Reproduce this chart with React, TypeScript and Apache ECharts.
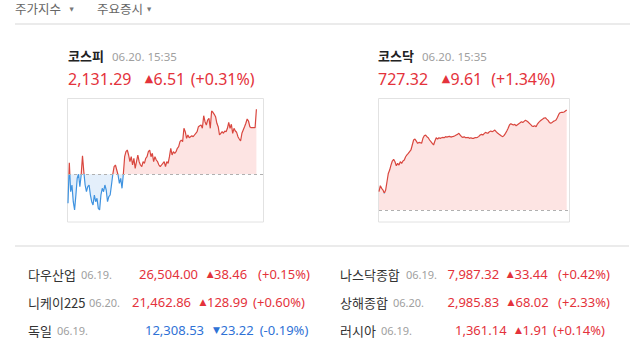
import React, { useEffect, useRef } from "react";
import * as echarts from "echarts";

// ---------- data ----------
const KOSPI_PREV = 2124.78;
const KOSDAQ_PREV = 717.71;
const KOSPI_AXIS = [2120.01, 2132.31];
const KOSDAQ_AXIS = [716.56, 728.38];

const kospiValues = [
  2121.88, 2125.94, 2123.04, 2123.71, 2122.04, 2121.21, 2122.71, 2124.38, 2124.78, 2123.54,
  2124.71, 2126.64, 2125.04, 2123.71, 2123.04, 2123.54, 2123.71, 2122.71, 2122.04, 2121.71,
  2122.71, 2122.04, 2122.38, 2121.38, 2121.21, 2122.71, 2123.38, 2123.04, 2123.71, 2123.21,
  2122.04, 2122.54, 2122.71, 2123.71, 2124.78, 2125.54, 2125.71, 2125.21, 2124.71, 2123.88,
  2124.38, 2123.38, 2124.78, 2126.54, 2127.04, 2127.21, 2126.71, 2126.04, 2126.54, 2125.71,
  2126.38, 2125.38, 2126.04, 2126.71, 2126.04, 2125.71, 2125.54, 2126.04, 2125.88, 2126.38,
  2126.54, 2127.04, 2127.21, 2126.54, 2126.88, 2126.04, 2126.54, 2126.21, 2126.04, 2125.71,
  2125.54, 2125.71, 2125.88, 2126.04,
  2125.54, 2126.04, 2125.88, 2126.54, 2127.38, 2126.71, 2127.04, 2126.88, 2127.04, 2127.38,
  2127.54, 2128.04, 2128.21, 2128.04, 2129.38, 2129.04, 2128.38, 2128.71, 2128.44, 2128.54,
  2128.64, 2128.54, 2128.71, 2128.88, 2129.04, 2129.54, 2129.64, 2129.71, 2129.38, 2130.64,
  2130.04, 2129.71, 2130.21, 2130.38, 2129.38, 2131.11, 2130.98, 2130.78, 2130.54, 2129.88,
  2129.54, 2128.71, 2128.88, 2129.04, 2128.88, 2129.11, 2129.04, 2129.38, 2129.98, 2129.38,
  2129.78, 2128.88, 2129.38, 2129.11, 2128.98, 2128.54, 2128.31, 2128.11, 2128.88, 2129.21,
  2129.54, 2129.88, 2130.31, 2130.11, 2129.54, 2129.44, 2129.44, 2129.44, 2129.44, 2131.29,
];

const kosdaqValues = [
  719.47, 720.05, 719.79, 719.63, 719.31, 719.63, 720.43, 721.23, 721.55, 722.03,
  722.42, 722.58, 722.35, 721.97, 722.19, 722.03, 722.35, 722.19, 722.42, 722.51,
  722.83, 723.0, 723.15, 723.32, 723.48, 723.96, 724.44, 724.53, 724.34, 724.12,
  724.21, 724.18, 724.12, 724.6, 724.85, 724.92, 724.76, 724.66, 724.44, 724.28,
  724.12, 723.96, 724.34, 724.66, 724.53, 724.66, 724.6, 724.66, 724.69, 724.66,
  724.76, 724.72, 724.76, 724.79, 724.72, 724.76, 724.79, 724.85, 724.92, 724.98,
  725.08, 724.92, 724.76, 724.69, 724.76, 724.66, 724.66, 724.69, 724.6, 724.66,
  724.6, 724.6,
  724.66, 724.66, 724.69, 724.79, 724.92, 724.98, 724.92, 725.05, 725.17, 725.11,
  725.11, 725.24, 725.3, 725.24, 725.3, 725.4, 725.24, 725.11, 725.01, 724.92,
  724.82, 724.76, 724.88, 725.08, 725.3, 725.56, 725.88, 726.01, 725.94, 725.88,
  725.94, 725.81, 725.91, 726.01, 726.1, 726.2, 726.13, 726.23, 726.33, 726.26,
  726.17, 726.04, 725.91, 725.78, 725.75, 725.81, 725.72, 725.97, 726.13, 726.26,
  726.36, 726.45, 726.55, 726.58, 726.45, 726.33, 726.13, 726.04, 726.13, 726.23,
  726.29, 726.36, 726.61, 726.9, 727.06, 727.09, 727.09, 727.13, 727.22, 727.32,
];

const tabLabels = ["주가지수", "주요증시"];
const indexNames = ["코스피", "코스닥"];
const indexTimes = ["06.20. 15:35", "06.20. 15:35"];
const indexPrices = ["2,131.29", "727.32"];
const indexChanges = ["6.51", "9.61"];
const indexRates = ["(+0.31%)", "(+1.34%)"];

const worldNames = ["다우산업", "니케이225", "독일", "나스닥종합", "상해종합", "러시아"];
const worldDates = ["06.19.", "06.20.", "06.19.", "06.19.", "06.20.", "06.19."];
const worldPrices = ["26,504.00", "21,462.86", "12,308.53", "7,987.32", "2,985.83", "1,361.14"];
const worldChanges = ["38.46", "128.99", "23.22", "33.44", "68.02", "1.91"];
const worldRates = ["(+0.15%)", "(+0.60%)", "(-0.19%)", "(+0.42%)", "(+2.33%)", "(+0.14%)"];
const worldUp = [true, true, false, true, true, true];

// ---------- layout / style ----------
const FONT = '"Noto Sans CJK KR", "Noto Sans", sans-serif';
const NUM_FONT = '"Noto Sans", "Open Sans", sans-serif';
const TRI_FONT = '"DejaVu Sans", sans-serif';
const RED = "#e4323b";
const BLUE = "#2f72d6";
const LINE_RED = "#d9473f";
const LINE_BLUE = "#3f93e0";
const FILL_RED = "#fde4e3";
const FILL_BLUE = "#e4effb";

// [labelX, dateX, priceX, triCenterX, changeX, rateCenterX, y]
const worldLayout = [
  [28, 81, 139, 210.3, 214, 284, 274],
  [28, 89, 132, 203, 207, 279, 302],
  [28, 57, 145, 216.5, 220.5, 284, 330],
  [340, 406, 447.5, 510.3, 514.5, 584, 274],
  [340, 393, 447.5, 511, 515.5, 584, 302],
  [340, 381, 455, 518.5, 522.5, 579, 330],
];
// [nameX, timeX, priceX, triCenterX, changeX, rateCenterX]
const headerLayout = [
  [68, 112, 68, 149, 153.5, 222.7],
  [378, 422, 378, 446, 450.5, 523.2],
];

function txt(x: number, y: number, text: string, o: any = {}) {
  const align = o.align || "left";
  return {
    type: "text",
    x,
    y,
    silent: true,
    style: {
      text,
      fill: o.fill || "#333",
      fontSize: o.size || 13,
      fontFamily: o.family || FONT,
      fontWeight: o.weight || "normal",
      align,
      textAlign: align,
      verticalAlign: "middle",
      textVerticalAlign: "middle",
    },
  };
}

// vertical gradient split at the previous close, relative to the shape's bounding box
function splitGradient(values: number[], base: number, up: string, down: string, includeBase: boolean) {
  let hi = Math.max(...values);
  let lo = Math.min(...values);
  if (includeBase) {
    hi = Math.max(hi, base);
    lo = Math.min(lo, base);
  }
  let f = (hi - base) / (hi - lo);
  f = Math.min(1, Math.max(0, f));
  return new echarts.graphic.LinearGradient(0, 0, 0, 1, [
    { offset: 0, color: up },
    { offset: f, color: up },
    { offset: f, color: down },
    { offset: 1, color: down },
  ]);
}

export default function App() {
  const ref = useRef<HTMLDivElement>(null);

  useEffect(() => {
    if (!ref.current) return;
    const chart = echarts.init(ref.current, undefined, { renderer: "svg" });

    const graphics: any[] = [];
    // tabs
    graphics.push(txt(15, 8.5, tabLabels[0], { fill: "#666", size: 12.5 }));
    graphics.push(txt(71.5, 8.5, "▼", { fill: "#777", size: 5.5, family: TRI_FONT, align: "center" }));
    graphics.push(txt(97, 8.5, tabLabels[1], { fill: "#666", size: 12.5 }));
    graphics.push(txt(149, 8.5, "▼", { fill: "#777", size: 5.5, family: TRI_FONT, align: "center" }));
    // separators
    graphics.push({ type: "line", silent: true, shape: { x1: 15, y1: 24, x2: 630, y2: 24 }, style: { stroke: "#ebebeb", lineWidth: 2 } });
    graphics.push({ type: "line", silent: true, shape: { x1: 15, y1: 246, x2: 629, y2: 246 }, style: { stroke: "#ebebeb", lineWidth: 2 } });
    // chart boxes
    graphics.push({ type: "rect", silent: true, shape: { x: 67.5, y: 98.5, width: 196, height: 123.5 }, style: { fill: "none", stroke: "#e2e2e2", lineWidth: 1 } });
    graphics.push({ type: "rect", silent: true, shape: { x: 378.5, y: 98.5, width: 191, height: 123.5 }, style: { fill: "none", stroke: "#e2e2e2", lineWidth: 1 } });

    // index headers
    headerLayout.forEach((L, i) => {
      graphics.push(txt(L[0], 55.5, indexNames[i], { fill: "#222", size: 13, weight: "bold" }));
      graphics.push(txt(L[1], 56, indexTimes[i], { fill: "#a0a0a0", size: 11.5, family: NUM_FONT }));
      graphics.push(txt(L[2], 78.5, indexPrices[i], { fill: RED, size: 16, family: NUM_FONT }));
      graphics.push(txt(L[3], 78.5, "▲", { fill: RED, size: 11, family: TRI_FONT, align: "center" }));
      graphics.push(txt(L[4], 78.5, indexChanges[i], { fill: RED, size: 16, family: NUM_FONT }));
      graphics.push(txt(L[5], 78.5, indexRates[i], { fill: RED, size: 16, family: NUM_FONT, align: "center" }));
    });

    // world indices table
    worldLayout.forEach((L, i) => {
      const c = worldUp[i] ? RED : BLUE;
      const y = L[6];
      graphics.push(txt(L[0], y, worldNames[i], { fill: "#333", size: 13 }));
      graphics.push(txt(L[1], y + 0.5, worldDates[i], { fill: "#a0a0a0", size: 11, family: NUM_FONT }));
      graphics.push(txt(L[2], y, worldPrices[i], { fill: c, size: 13, family: NUM_FONT }));
      graphics.push(txt(L[3], y, worldUp[i] ? "▲" : "▼", { fill: c, size: 9, family: TRI_FONT, align: "center" }));
      graphics.push(txt(L[4], y, worldChanges[i], { fill: c, size: 13, family: NUM_FONT }));
      graphics.push(txt(L[5], y, worldRates[i], { fill: c, size: 13, family: NUM_FONT, align: "center" }));
    });

    const nL = kospiValues.length;
    const nR = kosdaqValues.length;

    const dashLine = (base: number) => ({
      silent: true,
      symbol: "none",
      label: { show: false },
      lineStyle: { type: [3, 3], color: "#b0b0b0", width: 1 },
      data: [{ yAxis: base }],
    });

    chart.setOption({
      animation: false,
      backgroundColor: "#fff",
      grid: [
        { left: 68, top: 99, width: 195.5, height: 123 },
        { left: 379, top: 99, width: 190, height: 123 },
      ],
      xAxis: [
        { type: "value", gridIndex: 0, min: 0, max: ((nL - 1) * 195.5) / 188.4, show: false },
        { type: "value", gridIndex: 1, min: 0, max: ((nR - 1) * 190) / 187.7, show: false },
      ],
      yAxis: [
        { type: "value", gridIndex: 0, min: KOSPI_AXIS[0], max: KOSPI_AXIS[1], show: false },
        { type: "value", gridIndex: 1, min: KOSDAQ_AXIS[0], max: KOSDAQ_AXIS[1], show: false },
      ],
      series: [
        {
          type: "line", xAxisIndex: 0, yAxisIndex: 0,
          data: kospiValues.map((v, i) => [i, v]),
          symbol: "none", showSymbol: false,
          lineStyle: { width: 1.2, color: splitGradient(kospiValues, KOSPI_PREV, LINE_RED, LINE_BLUE, false) },
          areaStyle: { origin: KOSPI_PREV, opacity: 1, color: splitGradient(kospiValues, KOSPI_PREV, FILL_RED, FILL_BLUE, true) },
          markLine: dashLine(KOSPI_PREV),
        },
        {
          type: "line", xAxisIndex: 1, yAxisIndex: 1,
          data: kosdaqValues.map((v, i) => [i, v]),
          symbol: "none", showSymbol: false,
          lineStyle: { width: 1.2, color: splitGradient(kosdaqValues, KOSDAQ_PREV, LINE_RED, LINE_BLUE, false) },
          areaStyle: { origin: KOSDAQ_PREV, opacity: 1, color: splitGradient(kosdaqValues, KOSDAQ_PREV, FILL_RED, FILL_BLUE, true) },
          markLine: dashLine(KOSDAQ_PREV),
        },
      ],
      graphic: graphics,
    });

    return () => chart.dispose();
  }, []);

  return (
    <div
      ref={ref}
      style={{ position: "absolute", left: 0, top: 0, width: 640, height: 341, background: "#fff" }}
    />
  );
}
